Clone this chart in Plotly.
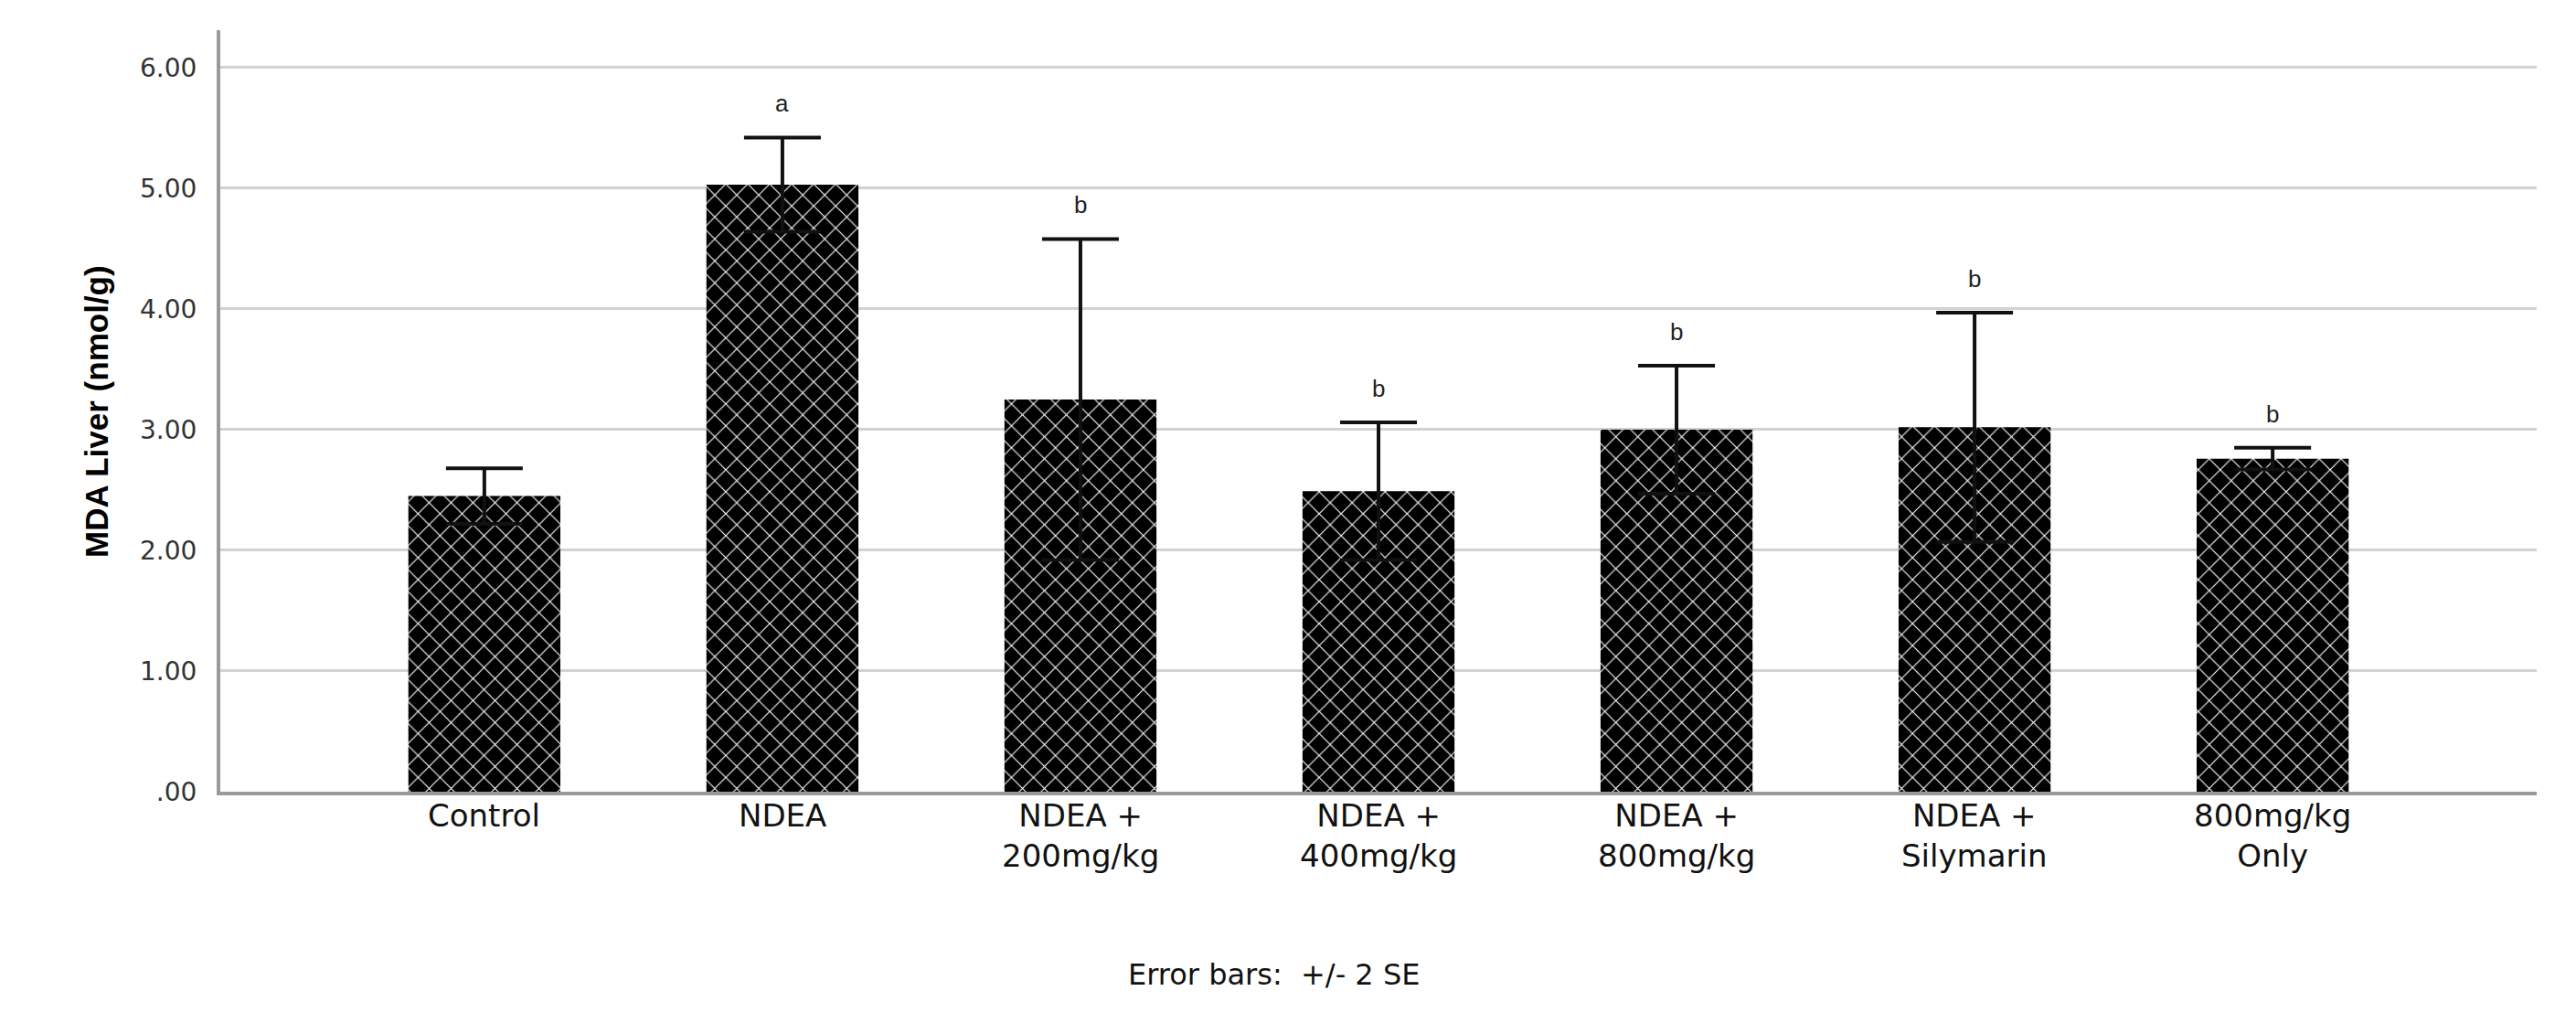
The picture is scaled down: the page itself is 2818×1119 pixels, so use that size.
import plotly.graph_objects as go

groups = ["Control", "NDEA", "NDEA +<br>200mg/kg", "NDEA +<br>400mg/kg",
          "NDEA +<br>800mg/kg", "NDEA +<br>Silymarin", "800mg/kg<br>Only"]
mda = [2.45, 5.03, 3.25, 2.49, 3.00, 3.02, 2.76]
se2 = [0.23, 0.39, 1.33, 0.57, 0.53, 0.95, 0.09]
letters = ["", "a", "b", "b", "b", "b", "b"]
yticks = [0, 1, 2, 3, 4, 5, 6]
yticktext = [".00", "1.00", "2.00", "3.00", "4.00", "5.00", "6.00"]

fig = go.Figure()
fig.add_trace(go.Bar(
    x=groups, y=mda, width=0.51,
    marker=dict(color="black", line=dict(width=0),
                pattern=dict(shape="x", bgcolor="black", fgcolor="white",
                             size=17, solidity=0.13, fillmode="replace")),
    error_y=dict(type="data", array=se2, visible=True,
                 color="#111111", thickness=4, width=42),
))

# significance letters above each error bar
for g, m, e, l in zip(groups, mda, se2, letters):
    if l:
        fig.add_annotation(x=g, y=m + e, text=l, showarrow=False,
                           yanchor="bottom", yshift=20,
                           font=dict(family="Liberation Sans", size=26, color="#222"))

# category labels under the axis
for g in groups:
    fig.add_annotation(x=g, y=0, xref="x", yref="paper", text=g,
                       showarrow=False, yanchor="top", yshift=-4,
                       font=dict(family="DejaVu Sans", size=34, color="#111"))

fig.add_annotation(x=-0.062, y=0.5, xref="paper", yref="paper",
                   text="<b>MDA Liver (nmol/g)</b>", textangle=-90, showarrow=False,
                   font=dict(family="Liberation Sans Narrow, Liberation Sans",
                             size=35, color="black"))
fig.add_annotation(x=0.455, y=-0.265, xref="paper", yref="paper",
                   text="Error bars:  +/- 2 SE", showarrow=False,
                   font=dict(family="DejaVu Sans", size=32, color="#111"))

fig.update_layout(
    width=2818, height=1119,
    margin=dict(l=233, r=51, t=25, b=261),
    plot_bgcolor="white", paper_bgcolor="white",
    showlegend=False,
)
fig.update_xaxes(range=[-0.886, 6.886], showgrid=False, showticklabels=False,
                 showline=True, linecolor="#9a9a9a", linewidth=4)
fig.update_yaxes(range=[0, 6.31], tickvals=yticks, ticktext=yticktext,
                 showgrid=True, gridcolor="#d2d2d2", gridwidth=3,
                 showline=True, linecolor="#9a9a9a", linewidth=4,
                 zeroline=False,
                 tickfont=dict(family="DejaVu Sans", size=28, color="#333"),
                 ticks="outside", ticklen=16, tickcolor="rgba(0,0,0,0)")

fig.write_html("out.html")
